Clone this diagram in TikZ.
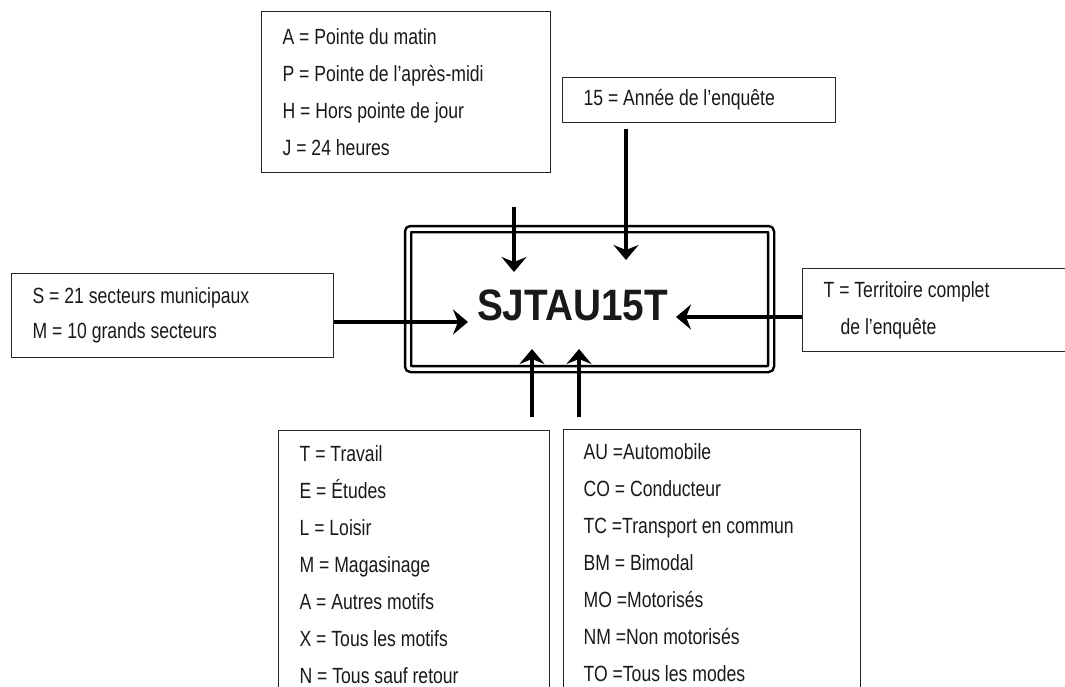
\documentclass[tikz,border=0pt]{standalone}
\usepackage{fontspec}
\setmainfont{Liberation Sans}[FakeStretch=0.8]
\newfontfamily\codefont{Liberation Sans}[FakeStretch=0.88]
\usepackage{tikz}
\usetikzlibrary{arrows.meta,positioning}
\newcommand\legendfont[1]{\fontsize{22}{#1}\selectfont\spaceskip=4.9pt plus 1pt minus 1pt\relax}

\begin{document}
\begin{tikzpicture}[
  x=1pt, y=-1pt,
  legend/.style={draw=black!85, line width=1.2pt, rectangle, anchor=north west, align=flush left,
    inner xsep=21pt, font=\legendfont{37}, text=black!90},
  codebox/.style={draw, double, line width=2.5pt, double distance=3.5pt, rounded corners=3pt,
    minimum width=363pt, minimum height=140pt, text width=225pt, align=flush left, inner xsep=69pt,
    text height=42pt, text depth=0pt, font=\codefont\bfseries\fontsize{44}{48}\selectfont, text=black!90},
  ptr/.style={-{Stealth[length=15pt,width=25pt,inset=5pt]}, line width=4pt}
]
\useasboundingbox (0,0) rectangle (1065,687);
\clip (0,0) rectangle (1065,687);
\node[legend, text width=247pt, minimum height=161pt] (period) at (261,11)
  {A = Pointe du matin\\P = Pointe de l’après-midi\\H = Hors pointe de jour\\J = 24 heures};
\node[legend, text width=231pt, minimum height=45pt] (year) at (562,77) {15 = Année de l’enquête};
\node[legend, text width=280pt, minimum height=84pt, font=\legendfont{35}] (zone) at (11,273)
  {S = 21 secteurs municipaux\\M = 10 grands secteurs};
\node[legend, text width=258pt, minimum height=83pt] (terr) at (802,268)
  {T = Territoire complet\\\hspace*{17pt}de l’enquête};
\node[legend, text width=229pt, inner ysep=15pt] (motive) at (278,430)
  {T = Travail\\E = Études\\L = Loisir\\M = Magasinage\\A = Autres motifs\\X = Tous les motifs\\N = Tous sauf retour};
\node[legend, text width=257pt, inner xsep=20pt, inner ysep=14pt] (mode) at (563,429)
  {AU =Automobile\\CO = Conducteur\\TC =Transport en commun\\BM = Bimodal\\MO =Motorisés\\NM =Non motorisés\\TO =Tous les modes};
\node[codebox] (code) at (589.5,299) {SJTAU15T};
\coordinate (periodfrom) at (514,207);
\coordinate (periodtip) at (514,272);
\coordinate (yearfrom) at (626,129);
\coordinate (yeartip) at (626,260);
\coordinate (zonetip) at (468,322);
\coordinate (terrtip) at (676,317);
\coordinate (motivefrom) at (532,417);
\coordinate (motivetip) at (532,349);
\coordinate (modefrom) at (579,417);
\coordinate (modetip) at (579,349);
\draw[ptr] (periodfrom) -- (periodtip);
\draw[ptr] (yearfrom) -- (yeartip);
\draw[ptr] (zone.east |- zonetip) -- (zonetip);
\draw[ptr] (terr.west |- terrtip) -- (terrtip);
\draw[ptr] (motivefrom) -- (motivetip);
\draw[ptr] (modefrom) -- (modetip);
\end{tikzpicture}
\end{document}
